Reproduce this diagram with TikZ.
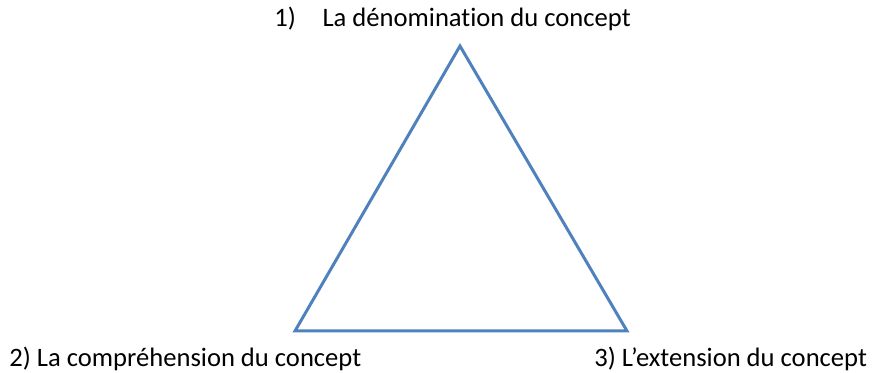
\documentclass[tikz,border=0pt]{standalone}
\usepackage{fontspec}
\setmainfont{Carlito}[Ligatures=NoCommon]
\usetikzlibrary{calc}
\definecolor{triblue}{HTML}{4F81BD}

\begin{document}
\begin{tikzpicture}[x=0.5pt,y=-0.5pt,
    side/.style={draw=triblue, line width=1.5pt, line join=miter},
    label/.style={anchor=base west, inner sep=0pt, font=\fontsize{13.3pt}{16pt}\selectfont}]
    \useasboundingbox (0,0) rectangle (875,373);
    \coordinate (apex) at (460,46);
    \coordinate (left) at (295,331);
    \coordinate (right) at (627,331);
    \draw[side] (apex) -- (left) -- (right) -- cycle;
    \node[label] (name) at (274,27) {1)\hspace{1em}La dénomination du concept};
    \node[label] (comp) at (9,367) {2) La compréhension du concept};
    \node[label] (ext) at (594,367) {3) L’extension du concept};
\end{tikzpicture}
\end{document}
